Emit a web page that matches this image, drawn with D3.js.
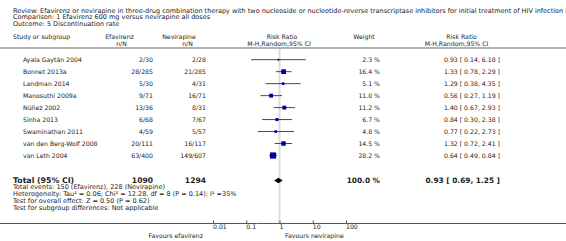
<!DOCTYPE html>
<html><head><meta charset="utf-8">
<script src="https://cdn.jsdelivr.net/npm/d3@7/dist/d3.min.js"></script>
<style>body{margin:0;background:#fff}svg{display:block}text{font-family:"DejaVu Sans",Verdana,sans-serif;fill:#222}</style>
</head><body><svg id="c" width="566" height="241"></svg>
<script>
const titleLines = [
  "Review:  Efavirenz or nevirapine in three-drug combination therapy with two nucleoside or nucleotide-reverse transcriptase inhibitors for initial treatment of HIV infection in",
  "Comparison:  1 Efavirenz 600 mg versus nevirapine all doses",
  "Outcome:  5 Discontinuation rate"
];
const studies = ["Ayala Gaytán 2004","Bonnet 2013a","Landman 2014","Manosuthi 2009a","Núñez 2002","Sinha 2013","Swaminathan 2011","van den Berg-Wolf 2008","van Leth 2004"];
const efaEvents = [2,28,5,9,13,6,4,20,63];
const efaTotal = [30,285,30,71,36,68,59,111,400];
const nevEvents = [2,21,4,16,8,7,5,16,149];
const nevTotal = [28,285,31,71,31,67,57,117,607];
const weights = [2.3,16.4,5.1,11.0,11.2,6.7,4.8,14.5,28.2];
const rr = [0.93,1.33,1.29,0.56,1.40,0.84,0.77,1.32,0.64];
const lo = [0.14,0.78,0.38,0.27,0.67,0.30,0.22,0.72,0.49];
const hi = [6.18,2.29,4.35,1.19,2.93,2.38,2.73,2.41,0.84];
const total = {label:"Total (95% CI)", efa:1090, nev:1294, weight:"100.0 %", rr:0.93, lo:0.69, hi:1.25};
const footnotes = [
  "Total events: 150 (Efavirenz), 228 (Nevirapine)",
  "Heterogeneity: Tau² = 0.06; Chi² = 12.28, df = 8 (P = 0.14); I² =35%",
  "Test for overall effect: Z = 0.50 (P = 0.62)",
  "Test for subgroup differences: Not applicable"
];
const tickValues = [0.01,0.1,1,10,100];
const tickLabels = ["0.01","0.1","1","10","100"];
const favours = ["Favours efavirenz","Favours nevirapine"];

const svg = d3.select("#c");
const fs = 6.5, rfs = 6.2, hfs = 6.2;
const x = d3.scaleLog().domain([0.01,100]).range([213,346]);
const rowY = d3.scaleLinear().domain([0,8]).range([59.7,155.5]);
const boxSize = d3.scaleSqrt().domain([0,28.2]).range([0,6.2]);

function txt(s, xx, yy, anchor, size, weight){
  return svg.append("text").attr("x",xx).attr("y",yy).attr("text-anchor",anchor||"start")
    .attr("dominant-baseline","central").attr("font-size",size||fs).attr("font-weight",weight||"normal").text(s);
}
const f2 = d3.format(".2f");
const ci = (r,l,h)=> `${f2(r)} [ ${f2(l)}, ${f2(h)} ]`;

// title
titleLines.forEach((t,i)=>txt(t,13,10.5+i*6.5));
// headers
const h1 = 36.6, h2 = 43;
txt("Study or subgroup",13,h1,"start",hfs);
txt("Efavirenz",119.5,h1,"middle",hfs); txt("n/N",121.5,h2,"middle",hfs);
txt("Nevirapine",179,h1,"middle",hfs); txt("n/N",187.5,h2,"middle",hfs);
txt("Risk Ratio",282,h1,"middle",hfs); txt("M-H,Random,95% CI",279,h2,"middle",hfs);
txt("Weight",364,h1,"middle",hfs);
txt("Risk Ratio",461.5,h1,"middle",hfs); txt("M-H,Random,95% CI",456.5,h2,"middle",hfs);
svg.append("line").attr("x1",0).attr("x2",566).attr("y1",48).attr("y2",48).attr("stroke","#999").attr("stroke-width",1.5);

// null line
svg.append("line").attr("x1",x(1)).attr("x2",x(1)).attr("y1",49).attr("y2",223).attr("stroke","#ddd").attr("stroke-width",2);

// rows
studies.forEach((s,i)=>{
  const y = rowY(i);
  txt(s,23,y,"start",rfs);
  txt(`${efaEvents[i]}/${efaTotal[i]}`,153,y,"end",rfs);
  txt(`${nevEvents[i]}/${nevTotal[i]}`,206,y,"end",rfs);
  txt(`${weights[i].toFixed(1)} %`,380,y,"end",rfs);
  txt(ci(rr[i],lo[i],hi[i]),500,y,"end",rfs);
  svg.append("line").attr("x1",x(lo[i])).attr("x2",x(hi[i])).attr("y1",y).attr("y2",y).attr("stroke","#333").attr("stroke-width",0.9);
  const b = Math.max(1.5,boxSize(weights[i]));
  svg.append("rect").attr("x",x(rr[i])-b/2).attr("y",y-b/2).attr("width",b).attr("height",b).attr("fill","#00009c");
});

// total
const ty = 180.5;
txt(total.label,13,ty,"start",7.8,"bold");
txt(total.efa,153,ty,"end",7.6,"bold");
txt(total.nev,206,ty,"end",7.6,"bold");
txt(total.weight,380,ty,"end",7.4,"bold");
txt(ci(total.rr,total.lo,total.hi),500,ty,"end",7.4,"bold");
const dh = 2.8;
svg.append("path").attr("d",`M${x(total.lo)},${ty}L${x(total.rr)},${ty-dh}L${x(total.hi)},${ty}L${x(total.rr)},${ty+dh}Z`).attr("fill","#000");

footnotes.forEach((t,i)=>txt(t,13,187.2+i*6.9));

// axis
const ay = 223.5;
svg.append("line").attr("x1",0).attr("x2",566).attr("y1",ay).attr("y2",ay).attr("stroke","#555").attr("stroke-width",1);
const ax = svg.append("g").attr("transform",`translate(0,${ay})`)
  .call(d3.axisBottom(x).tickValues(tickValues).tickFormat((d,i)=>tickLabels[i]).tickSizeInner(-3).tickSizeOuter(0).tickPadding(1.5));
ax.select(".domain").remove();
ax.selectAll(".tick line").attr("stroke","#555");
ax.selectAll("text").attr("text-anchor","start").attr("font-size",rfs).attr("font-family","DejaVu Sans").attr("fill","#222").attr("dx",-0.5);
txt(favours[0],203,235.5,"end",rfs);
txt(favours[1],285,235.5,"start",rfs);
</script></body></html>
